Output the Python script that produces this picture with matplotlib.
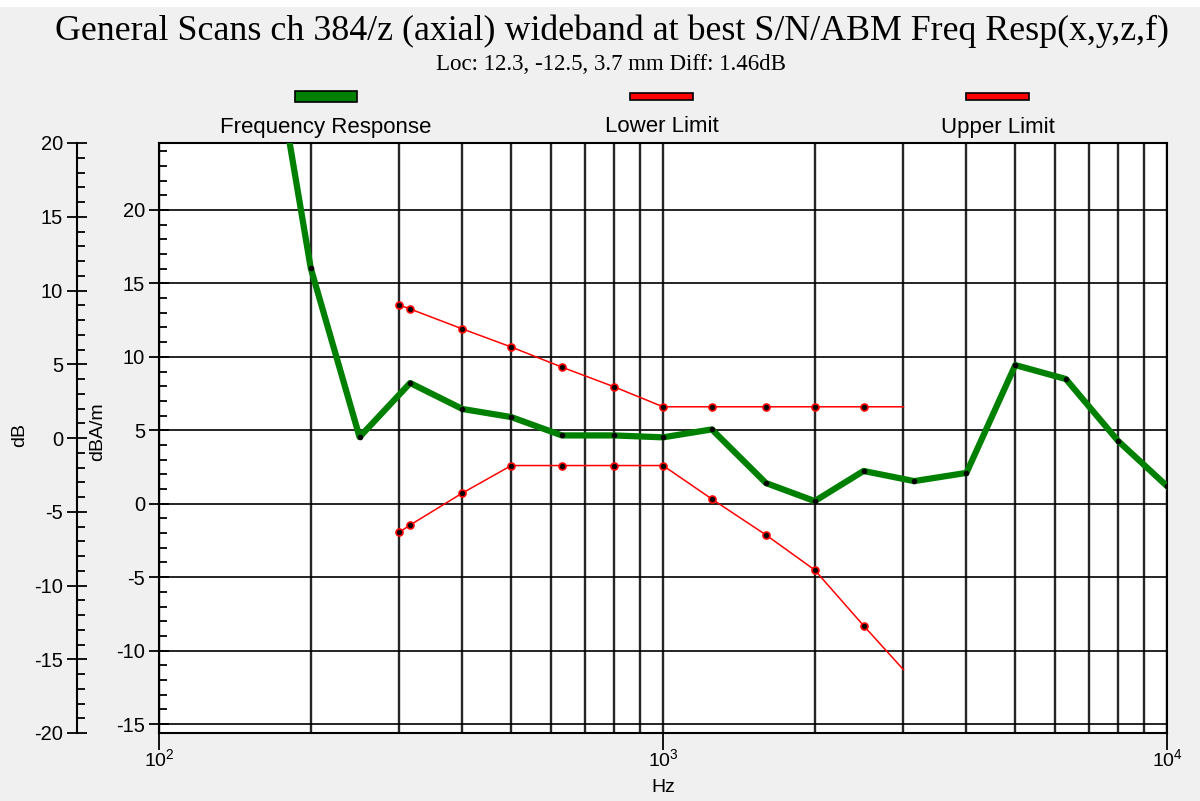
"""
General scan frequency response vs. limit lines (log frequency axis)
"""

import matplotlib
matplotlib.use("Agg")
import matplotlib.pyplot as plt
from matplotlib.patches import Rectangle
from matplotlib.ticker import MultipleLocator, LogLocator, NullFormatter

# --- data ---
resp_hz = [160, 200, 250, 315, 400, 500, 630, 800, 1000, 1250, 1600, 2000,
           2500, 3150, 4000, 5000, 6300, 8000, 10000]
resp_db = [35.8, 16.05, 4.54, 8.22, 6.45, 5.9, 4.65, 4.65, 4.52, 5.06, 1.41,
           0.18, 2.23, 1.54, 2.1, 9.44, 8.49, 4.27, 1.2]

limit_hz = [300, 315, 400, 500, 630, 800, 1000, 1250, 1600, 2000, 2500, 3000]
upper_db = [13.52, 13.26, 11.9, 10.67, 9.3, 7.96, 6.6, 6.6, 6.6, 6.6, 6.6, 6.6]
lower_db = [-1.93, -1.45, 0.73, 2.6, 2.6, 2.6, 2.6, 0.32, -2.12, -4.51, -8.3, -11.3]

legend_labels = ["Frequency Response", "Lower Limit", "Upper Limit"]
title = "General Scans ch 384/z (axial) wideband at best S/N/ABM Freq Resp(x,y,z,f)"
subtitle = "Loc: 12.3, -12.5, 3.7 mm Diff: 1.46dB"

W, H = 1200, 801
BG = "#f0f0f0"
SANS = ["Liberation Sans", "DejaVu Sans"]
SERIF = ["Liberation Serif", "DejaVu Serif"]

plt.rcParams["axes.unicode_minus"] = False


def fx(px):
    return px / W


def fy(py):
    return 1 - py / H


def main():
    fig = plt.figure(figsize=(W / 100, H / 100), dpi=100, facecolor=BG)
    # thin white strip at the very top
    fig.patches.append(Rectangle((0, fy(7)), 1, 7 / H, transform=fig.transFigure,
                                 facecolor="white", edgecolor="none"))

    left, right, top, bottom = 159, 1167, 143, 733
    rect = [fx(left), fy(bottom), fx(right - left), (bottom - top) / H]

    # main plot (dBA/m scale)
    ax = fig.add_axes(rect)
    ax.set_facecolor("white")
    ax.set_xscale("log")
    ax.set_xlim(100, 10000)
    ax.set_ylim(-15.61, 24.56)

    ax.xaxis.set_major_locator(LogLocator(base=10, numticks=5))
    ax.xaxis.set_minor_locator(LogLocator(base=10, subs=range(2, 10), numticks=20))
    ax.xaxis.set_minor_formatter(NullFormatter())
    ax.yaxis.set_major_locator(MultipleLocator(5))
    ax.yaxis.set_minor_locator(MultipleLocator(1))

    ax.grid(True, which="both", axis="x", color="#262626", lw=1.7, zorder=1)
    ax.grid(True, which="major", axis="y", color="black", lw=1.2, zorder=1)
    ax.set_axisbelow(True)

    ax.tick_params(axis="x", which="major", direction="out", length=12, width=1.3,
                   labelsize=14, pad=-1)
    ax.tick_params(axis="x", which="minor", length=0)
    ax.tick_params(axis="y", which="major", direction="inout", length=14, width=1.3,
                   labelsize=14.5, pad=3)
    ax.tick_params(axis="y", which="minor", direction="in", length=6, width=1.3)
    for lab in ax.get_xticklabels() + ax.get_yticklabels():
        lab.set_family(SANS)
    for s in ax.spines.values():
        s.set_linewidth(1.5)
        s.set_color("black")

    ax.set_xlabel("Hz", family=SANS, fontsize=14, labelpad=6)

    # limit lines (no marker on the last point)
    n = len(limit_hz)
    for vals in (upper_db, lower_db):
        ax.plot(limit_hz, vals, color="red", lw=1.1, marker="o", markersize=5,
                markerfacecolor="black", markeredgecolor="red", mew=1.2,
                markevery=list(range(n - 1)), zorder=3, clip_on=True)

    # frequency response
    ax.plot(resp_hz, resp_db, color="#008000", lw=4.5, solid_joinstyle="round",
            zorder=4)
    ax.plot(resp_hz, resp_db, ls="none", marker="o", markersize=3,
            color="black", zorder=5)

    # outer dB axis
    axo = fig.add_axes([fx(77), fy(bottom), 0.0001, (bottom - top) / H])
    axo.patch.set_visible(False)
    axo.set_ylim(-20, 20)
    axo.yaxis.set_major_locator(MultipleLocator(5))
    axo.yaxis.set_minor_locator(MultipleLocator(1))
    axo.set_xticks([])
    for name, s in axo.spines.items():
        s.set_visible(name == "left")
    axo.spines["left"].set_linewidth(1.5)
    axo.tick_params(axis="y", which="major", direction="inout", length=14, width=1.3,
                    labelsize=14.5, pad=3)
    axo.tick_params(axis="y", which="minor", direction="in", length=6, width=1.3)
    for lab in axo.get_yticklabels():
        lab.set_family(SANS)

    fig.text(fx(20), fy(435), "dB", rotation=90, ha="center", va="center",
             family=SANS, fontsize=14)
    fig.text(fx(98), fy(432), "dBA/m", rotation=90, ha="center", va="center",
             family=SANS, fontsize=14)

    # titles
    fig.text(fx(612), fy(31), title, ha="center", va="center", family=SERIF,
             fontsize=25.8)
    fig.text(fx(611), fy(64), subtitle, ha="center", va="center", family=SERIF,
             fontsize=16.5)

    # legend drawn by hand
    swatches = [(295, 357, 91, 102, "#008000"), (630, 693, 93, 100, "red"),
                (966, 1029, 93, 100, "red")]
    for (x0, x1, y0, y1, col), lab in zip(swatches, legend_labels):
        fig.patches.append(Rectangle((fx(x0), fy(y1)), (x1 - x0) / W, (y1 - y0) / H,
                                     transform=fig.transFigure, facecolor=col,
                                     edgecolor="black", lw=1.2))
        fig.text(fx((x0 + x1) / 2), fy(127), lab, ha="center", va="center",
                 family=SANS, fontsize=16)

    fig.savefig("out.png", dpi=100, facecolor=BG)


if __name__ == "__main__":
    main()
